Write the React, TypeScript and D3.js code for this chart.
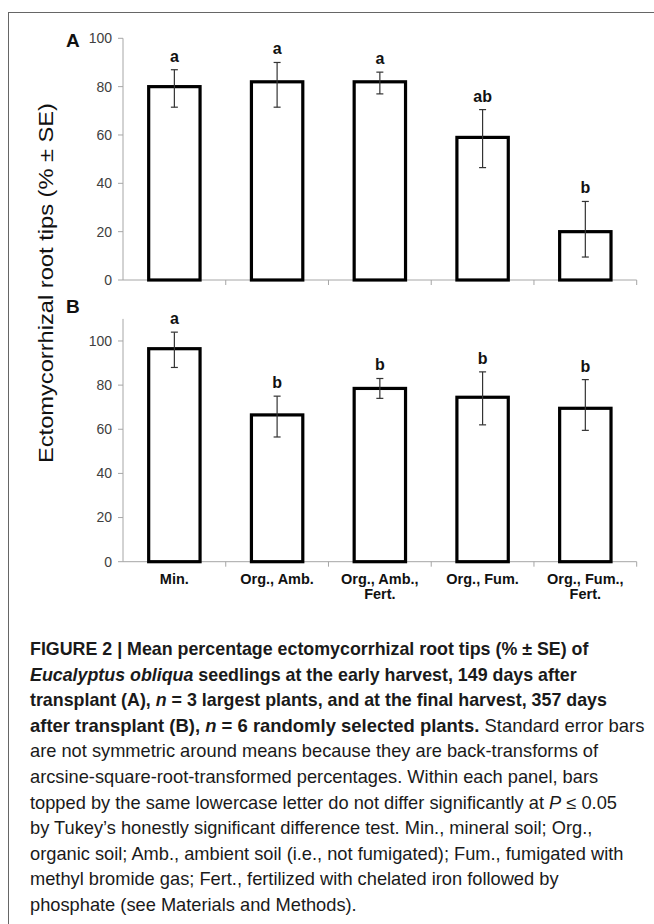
import React, { useLayoutEffect, useRef } from "react";
import * as d3 from "d3";

const categories = ["Min.", "Org., Amb.", "Org., Amb., Fert.", "Org., Fum.", "Org., Fum., Fert."];
const categoryLines = [["Min."], ["Org., Amb."], ["Org., Amb.,", "Fert."], ["Org., Fum."], ["Org., Fum.,", "Fert."]];

const meanA = [80, 82, 82, 59, 20];
const upperA = [87, 90, 86, 70.5, 32.5];
const lowerA = [71.5, 71.5, 77, 46.5, 9.5];
const lettersA = ["a", "a", "a", "ab", "b"];

const meanB = [96.5, 66.5, 78.5, 74.5, 69.5];
const upperB = [104, 75, 83, 86, 82.5];
const lowerB = [88, 56.5, 74, 62, 59.5];
const lettersB = ["a", "b", "b", "b", "b"];

const yTicks = [0, 20, 40, 60, 80, 100];

const yTitle = "Ectomycorrhizal root tips (% ± SE)";

type Seg = { t: string; w?: number; i?: boolean };
const captionLines: Seg[][] = [
  [{ t: "FIGURE 2 | Mean percentage ectomycorrhizal root tips (% ± SE) of", w: 700 }],
  [{ t: "Eucalyptus obliqua", w: 700, i: true }, { t: " seedlings at the early harvest, 149 days after", w: 700 }],
  [{ t: "transplant (A), ", w: 700 }, { t: "n", w: 700, i: true }, { t: " = 3 largest plants, and at the final harvest, 357 days", w: 700 }],
  [{ t: "after transplant (B), ", w: 700 }, { t: "n", w: 700, i: true }, { t: " = 6 randomly selected plants.", w: 700 }, { t: " Standard error bars" }],
  [{ t: "are not symmetric around means because they are back-transforms of" }],
  [{ t: "arcsine-square-root-transformed percentages. Within each panel, bars" }],
  [{ t: "topped by the same lowercase letter do not differ significantly at " }, { t: "P", i: true }, { t: " ≤ 0.05" }],
  [{ t: "by Tukey’s honestly significant difference test. Min., mineral soil; Org.," }],
  [{ t: "organic soil; Amb., ambient soil (i.e., not fumigated); Fum., fumigated with" }],
  [{ t: "methyl bromide gas; Fert., fertilized with chelated iron followed by" }],
  [{ t: "phosphate (see Materials and Methods)." }],
];
const captionWidths = [573, 522, 588, 615, 517, 565, 615, 567, 617, 528, 327];

const W = 654;
const H = 924;
const font = "'Liberation Sans', Arial, sans-serif";

const x = d3.scaleBand<string>().domain(categories).range([123, 636.7]).paddingInner(0.5).paddingOuter(0.25);

const panels = [
  { key: "A", mean: meanA, upper: upperA, lower: lowerA, letters: lettersA, y: d3.scaleLinear().domain([0, 100]).range([280, 38.3]), labelY: 46.5 },
  { key: "B", mean: meanB, upper: upperB, lower: lowerB, letters: lettersB, y: d3.scaleLinear().domain([0, 110]).range([561.7, 318.9]), labelY: 313 },
];

function Panel({ p }: { p: (typeof panels)[number] }) {
  const y = p.y;
  const [y0, yTop] = y.range();
  const [xl, xr] = x.range();
  const boundaries = categories.map((_, i) => xl + x.step() * (i + 1));
  return (
    <g>
      <text x={66} y={p.labelY} fontFamily={font} fontWeight={700} fontSize={19} fill="#111">{p.key}</text>
      <line x1={xl} x2={xl} y1={yTop} y2={y0} stroke="#a6a6a6" strokeWidth={1} />
      {yTicks.map((t) => (
        <g key={t}>
          <line x1={xl - 5} x2={xl} y1={y(t)} y2={y(t)} stroke="#a6a6a6" />
          <text x={112} y={y(t)} dy="0.35em" textAnchor="end" fontFamily={font} fontSize={14} fill="#404040">{t}</text>
        </g>
      ))}
      <line x1={xl} x2={xr} y1={y0} y2={y0} stroke="#a6a6a6" strokeWidth={1} />
      {boundaries.map((b, i) => (
        <line key={i} x1={b} x2={b} y1={y0} y2={y0 + 5} stroke="#a6a6a6" />
      ))}
      {categories.map((c, i) => {
        const bx = x(c)!;
        const bw = x.bandwidth();
        const cx = bx + bw / 2;
        return (
          <g key={c}>
            <rect x={bx} y={y(p.mean[i])} width={bw} height={y0 - y(p.mean[i])} fill="#fff" stroke="#000" strokeWidth={3.2} />
            <line x1={cx} x2={cx} y1={y(p.upper[i])} y2={y(p.lower[i])} stroke="#333" strokeWidth={1.2} />
            <line x1={cx - 3.5} x2={cx + 3.5} y1={y(p.upper[i])} y2={y(p.upper[i])} stroke="#333" strokeWidth={1.2} />
            <line x1={cx - 3.5} x2={cx + 3.5} y1={y(p.lower[i])} y2={y(p.lower[i])} stroke="#333" strokeWidth={1.2} />
            <text x={cx} y={y(p.upper[i]) - 8} textAnchor="middle" fontFamily={font} fontWeight={700} fontSize={16} fill="#111">{p.letters[i]}</text>
          </g>
        );
      })}
    </g>
  );
}

export default function App() {
  const capRef = useRef<SVGGElement>(null);
  useLayoutEffect(() => {
    document.body.style.margin = "0";
    const g = capRef.current;
    if (!g) return;
    const texts = Array.from(g.querySelectorAll("text")) as SVGTextElement[];
    const lens = texts.map((t) => t.getComputedTextLength());
    const groupScale = (idx: number[]) => {
      const tw = idx.reduce((a, i) => a + captionWidths[i], 0);
      const nw = idx.reduce((a, i) => a + lens[i], 0);
      return nw > 0 ? tw / nw : 1;
    };
    const boldIdx = [0, 1, 2];
    const regIdx = [4, 5, 6, 7, 8, 9, 10];
    const sBold = groupScale(boldIdx);
    const sReg = groupScale(regIdx);
    texts.forEach((t, i) => {
      const s = i === 3 ? captionWidths[3] / lens[3] : boldIdx.includes(i) ? sBold : sReg;
      t.setAttribute("transform", `translate(30,${655 + i * 25.6}) scale(${s},1)`);
    });
  }, []);
  const yB = panels[1].y;
  return (
    <svg width={W} height={H} style={{ display: "block", background: "#fff" }}>
      <line x1={8.5} x2={8.5} y1={12} y2={H} stroke="#666" strokeWidth={1} />
      <line x1={8} x2={W} y1={12.5} y2={12.5} stroke="#666" strokeWidth={1} />
      <text transform={`translate(53,283) rotate(-90)`} textAnchor="middle" fontFamily={font} fontSize={20} fill="#111" textLength={360} lengthAdjust="spacingAndGlyphs">{yTitle}</text>
      {panels.map((p) => <Panel key={p.key} p={p} />)}
      {categories.map((c, i) => {
        const cx = x(c)! + x.bandwidth() / 2;
        return (
          <text key={c} x={cx} y={yB.range()[0] + 22} textAnchor="middle" fontFamily={font} fontWeight={700} fontSize={14.5} fill="#111">
            {categoryLines[i].map((l, j) => (
              <tspan key={j} x={cx} dy={j === 0 ? 0 : 15.5}>{l}</tspan>
            ))}
          </text>
        );
      })}
      <g ref={capRef}>
        {captionLines.map((segs, i) => (
          <text key={i} transform={`translate(30,${655 + i * 25.6})`} fontFamily={font} fontSize={17.5} fill="#1a1a1a">
            {segs.map((s, j) => (
              <tspan key={j} fontWeight={s.w ?? 400} fontStyle={s.i ? "italic" : "normal"}>{s.t}</tspan>
            ))}
          </text>
        ))}
      </g>
    </svg>
  );
}
